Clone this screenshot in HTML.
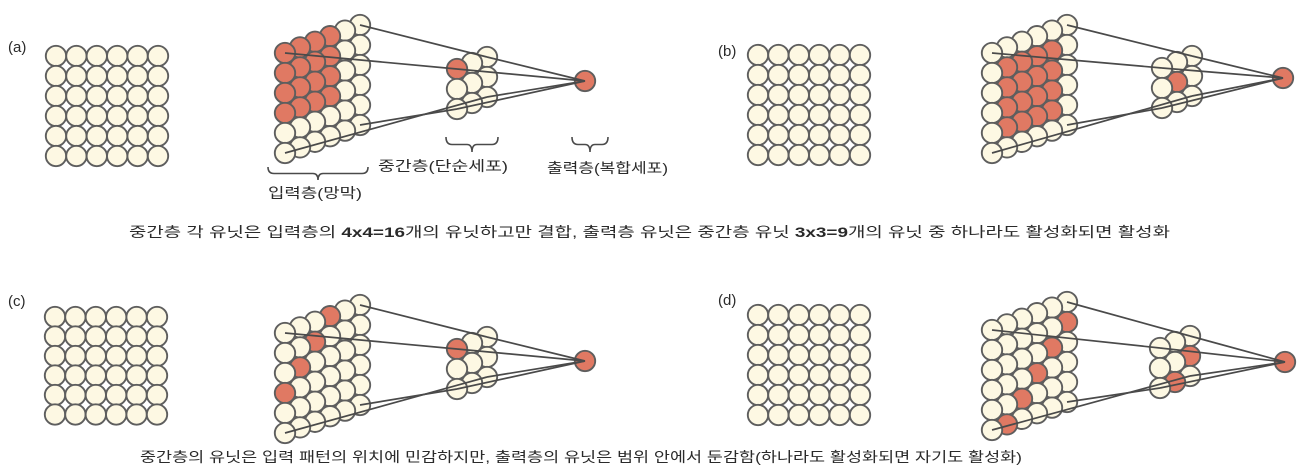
<!DOCTYPE html>
<html><head><meta charset="utf-8"><style>
html,body{margin:0;padding:0;background:#fff;}
svg{display:block;}
text{font-family:"Liberation Sans","Noto Sans CJK KR","NanumGothic",sans-serif;fill:#2a2a2a;}
</style></head><body>
<svg id="s" width="1314" height="474" viewBox="0 0 1314 474" xmlns="http://www.w3.org/2000/svg">
<g id="g"></g>
<text x="8" y="52" font-size="15">(a)</text>
<text x="718" y="56" font-size="15">(b)</text>
<text x="8" y="306" font-size="15">(c)</text>
<text x="718" y="305" font-size="15">(d)</text>
<text x="268" y="198" font-size="14" textLength="94" lengthAdjust="spacingAndGlyphs">입력층(망막)</text>
<text x="378" y="171" font-size="14" textLength="130" lengthAdjust="spacingAndGlyphs">중간층(단순세포)</text>
<text x="547" y="173" font-size="14" textLength="121" lengthAdjust="spacingAndGlyphs">출력층(복합세포)</text>
<text x="129" y="237" font-size="14" textLength="1041" lengthAdjust="spacingAndGlyphs">중간층 각 유닛은 입력층의 <tspan font-weight="bold">4x4=16</tspan>개의 유닛하고만 결합, 출력층 유닛은 중간층 유닛 <tspan font-weight="bold">3x3=9</tspan>개의 유닛 중 하나라도 활성화되면 활성화</text>
<text x="140" y="462" font-size="14" textLength="882" lengthAdjust="spacingAndGlyphs">중간층의 유닛은 입력 패턴의 위치에 민감하지만, 출력층의 유닛은 범위 안에서 둔감함(하나라도 활성화되면 자기도 활성화)</text>
</svg>
<script>
var g=document.getElementById('g'),NS='http://www.w3.org/2000/svg';
var CR='#fdf8e3',RD='#e07963',ST='#5e5e5e';
function el(t,a){var e=document.createElementNS(NS,t);for(var k in a)e.setAttribute(k,a[k]);g.appendChild(e);return e;}
function circ(x,y,f){el('circle',{cx:x,cy:y,r:10.2,fill:f,stroke:ST,'stroke-width':1.9});}
function line(a,b){el('line',{x1:a[0],y1:a[1],x2:b[0],y2:b[1],stroke:'#4a4a4a','stroke-width':1.7});}
function flat(x0,y0,sx,sy){for(var j=0;j<6;j++)for(var i=0;i<6;i++)circ(x0+i*sx,y0+j*sy,CR);}
function panel(c0,m0,o,red,mred){
  function ip(c,r){return [c0[0]+c*15,c0[1]-c*5.6+r*20];}
  function mp(c,r){return [m0[0]+c*15,m0[1]-c*6+r*20];}
  for(var c=5;c>=0;c--)for(var r=0;r<6;r++){var p=ip(c,r);circ(p[0],p[1],red(c,r)?RD:CR);}
  for(var c=2;c>=0;c--)for(var r=0;r<3;r++){var p=mp(c,r);circ(p[0],p[1],mred(c,r)?RD:CR);}
  circ(o[0],o[1],RD);
  line(ip(5,0),mp(2,0));line(ip(0,0),mp(0,0));line(ip(5,5),mp(0,2));line(ip(0,5),mp(2,2));
  line(mp(2,0),o);line(mp(0,0),o);line(mp(0,2),o);line(mp(2,2),o);
}
flat(56,56,20.4,20);flat(758,55,20.4,20);flat(55,317,20.4,19.5);flat(758,315,20.4,20);
panel([285,53],[457,69],[585,81],function(c,r){return c<4&&r<4;},function(c,r){return c==0&&r==0;});
panel([992,53],[1162,68],[1283,78],function(c,r){return c>=1&&c<=4&&r>=1&&r<=4;},function(c,r){return c==1&&r==1;});
panel([285,333],[457,349],[585,361],function(c,r){return c<=3&&r==3-c;},function(c,r){return c==0&&r==0;});
panel([992,330],[1160,348],[1285,362],function(c,r){return c>=1&&r==6-c;},function(c,r){return (c==2&&r==1)||(c==1&&r==2);});
function brace(x1,x2,y1,y2){var xm=(x1+x2)/2,ym=(y1+y2)/2;
  el('path',{d:'M'+x1+' '+y1+' Q'+x1+' '+ym+' '+(x1+6)+' '+ym+' L'+(xm-5)+' '+ym+' Q'+xm+' '+ym+' '+xm+' '+y2+' Q'+xm+' '+ym+' '+(xm+5)+' '+ym+' L'+(x2-6)+' '+ym+' Q'+x2+' '+ym+' '+x2+' '+y1,fill:'none',stroke:'#4a4a4a','stroke-width':1.6});}
brace(268,368,167,180);brace(446,498,137,152);brace(572,608,137,152);
</script>
</body></html>
